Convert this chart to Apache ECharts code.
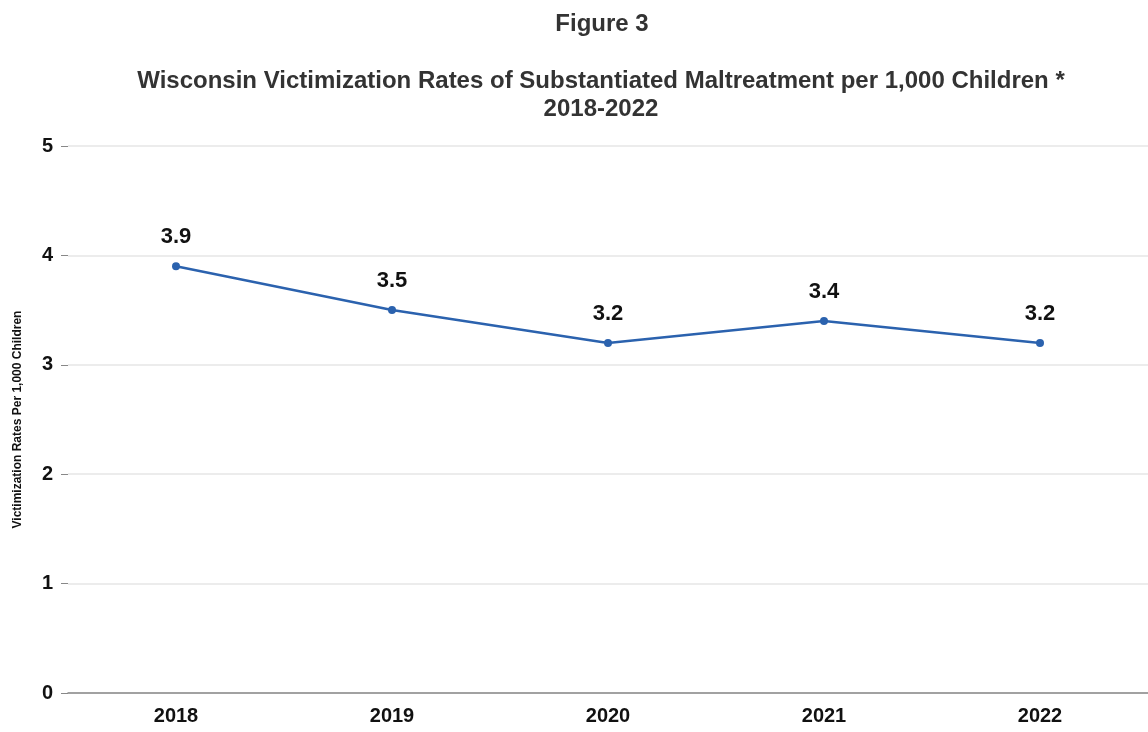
<!DOCTYPE html>
<html>
<head>
<meta charset="utf-8">
<script src="https://cdn.jsdelivr.net/npm/echarts@6/dist/echarts.min.js"></script>
<style>
  html, body { margin: 0; padding: 0; background: #fff; }
  #chart { width: 1148px; height: 732px; }
</style>
</head>
<body>
<div id="chart"></div>
<script>
const years = ['2018', '2019', '2020', '2021', '2022'];
const rates = [3.9, 3.5, 3.2, 3.4, 3.2];

const chart = echarts.init(document.getElementById('chart'));
const font = 'Liberation Sans, Arial, sans-serif';

chart.setOption({
  backgroundColor: '#fff',
  textStyle: { fontFamily: font },
  title: [
    {
      text: 'Figure 3', left: 597, top: 7, textAlign: 'center',
      textStyle: { fontSize: 24, fontWeight: 'bold', color: '#333', fontFamily: font }
    },
    {
      text: 'Wisconsin Victimization Rates of Substantiated Maltreatment per 1,000 Children *\n2018-2022',
      left: 596, top: 62, textAlign: 'center',
      textStyle: { fontSize: 24, fontWeight: 'bold', color: '#333', lineHeight: 28, fontFamily: font }
    }
  ],
  grid: { left: 68, top: 146, width: 1083, bottom: 39, containLabel: false },
  xAxis: {
    type: 'category', data: years, boundaryGap: true,
    axisLine: { lineStyle: { color: '#888', width: 1.5 } },
    axisTick: { alignWithLabel: true, length: 6, lineStyle: { color: '#888' } },
    axisLabel: { fontSize: 20, fontWeight: 'bold', color: '#111', margin: 13 }
  },
  yAxis: {
    type: 'value', min: 0, max: 5, interval: 1,
    name: 'Victimization Rates Per 1,000 Children',
    nameLocation: 'middle', nameGap: 44,
    nameTextStyle: { fontSize: 12, fontWeight: 'bold', color: '#111' },
    axisLine: { show: false },
    axisTick: { show: true, length: 7, lineStyle: { color: '#888' } },
    axisLabel: { fontSize: 20, fontWeight: 'bold', color: '#111', margin: 15 },
    splitLine: { lineStyle: { color: '#e6e6e6', width: 1.5 } }
  },
  series: [{
    type: 'line', data: rates,
    symbol: 'circle', symbolSize: 8,
    lineStyle: { color: '#2b62ae', width: 2.5 },
    itemStyle: { color: '#2b62ae' },
    label: {
      show: true, position: 'top', distance: 14,
      fontSize: 22, fontWeight: 'bold', color: '#111',
      formatter: (p) => p.value.toFixed(1)
    }
  }]
});
</script>
</body>
</html>
